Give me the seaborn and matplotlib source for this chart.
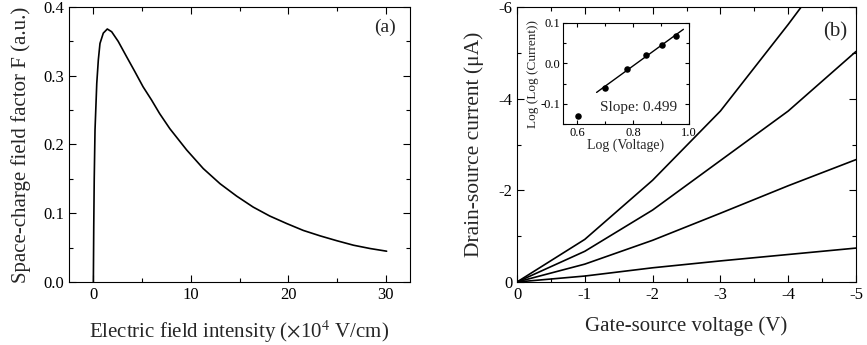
import numpy as np
import pandas as pd
import seaborn as sns
import matplotlib
matplotlib.use("Agg")
from matplotlib import pyplot as plt
from matplotlib.ticker import MultipleLocator, FormatStrFormatter

# (a) space-charge field factor vs electric field
field = [0, 0.04, 0.09, 0.17, 0.35, 0.51, 0.68, 1.02, 1.43, 1.88, 2.55,
         3.4, 4.26, 5.1, 5.96, 6.8, 7.85, 9.58, 11.28, 13.0, 14.7, 16.4,
         18.1, 19.85, 21.55, 23.3, 25.0, 26.7, 28.4, 30.1]
factor = [0, 0.08, 0.15, 0.221, 0.289, 0.323, 0.347, 0.362, 0.368, 0.364,
          0.350, 0.328, 0.306, 0.284, 0.265, 0.245, 0.223, 0.192, 0.165,
          0.143, 0.125, 0.109, 0.096, 0.085, 0.075, 0.067, 0.060, 0.0535,
          0.0487, 0.0448]

# (b) drain-source current vs gate-source voltage
vgs = [0, -1, -2, -3, -4, -5]
ids_1 = [0, -0.93, -2.22, -3.73, -5.62, -7.6]
ids_2 = [0, -0.67, -1.57, -2.65, -3.73, -5.03]
ids_3 = [0, -0.39, -0.91, -1.50, -2.10, -2.67]
ids_4 = [0, -0.13, -0.31, -0.46, -0.60, -0.74]

# inset: log-log points
log_v = [0.602, 0.699, 0.778, 0.845, 0.903, 0.954]
log_log_i = [-0.131, -0.0615, -0.014, 0.0205, 0.0467, 0.067]
fit_range = [0.67, 0.98]

sns.set_style("ticks")
plt.rcParams['font.family'] = ['Liberation Serif', 'DejaVu Serif']
plt.rcParams['mathtext.fontset'] = 'stix'
plt.rcParams['axes.unicode_minus'] = False
plt.rcParams['axes.linewidth'] = 0.8

W, H = 867, 345
fig = plt.figure(figsize=(W / 100, H / 100), dpi=100)


def px_axes(x0, x1, ytop, ybot):
    return fig.add_axes([x0 / W, 1 - ybot / H, (x1 - x0) / W, (ybot - ytop) / H])


def style_ticks(ax, size=12):
    ax.tick_params(which='both', direction='in', top=True, right=True,
                   colors='black', labelsize=size, width=0.8)
    ax.tick_params(which='major', length=5)
    ax.tick_params(which='minor', length=3)
    for s in ax.spines.values():
        s.set_color('black')


# ---- panel (a)
ax1 = px_axes(69, 410, 7, 282)
sns.lineplot(x=field, y=factor, ax=ax1, color='black', lw=1.2,
             sort=False, estimator=None)
ax1.set_xlim(-2.5, 32.5)
ax1.set_ylim(0, 0.4)
ax1.xaxis.set_major_locator(MultipleLocator(10))
ax1.xaxis.set_minor_locator(MultipleLocator(5))
ax1.yaxis.set_major_locator(MultipleLocator(0.1))
ax1.yaxis.set_minor_locator(MultipleLocator(0.05))
ax1.yaxis.set_major_formatter(FormatStrFormatter('%.1f'))
style_ticks(ax1)
ax1.set_xlabel(r"Electric field intensity ($\times$10$^{4}$ V/cm)", fontsize=15,
               labelpad=11)
ax1.set_ylabel("Space-charge field factor F (a.u.)", fontsize=15, labelpad=9)
ax1.text(0.927, 0.925, "(a)", transform=ax1.transAxes, fontsize=14,
         ha='center', va='center')

# ---- panel (b)
ax2 = px_axes(517, 856, 7, 282)
for ids in [ids_1, ids_2, ids_3, ids_4]:
    sns.lineplot(x=vgs, y=ids, ax=ax2, color='black', lw=1.2,
                 sort=False, estimator=None)
ax2.set_xlim(0, -5)
ax2.set_ylim(0, -6)
ax2.xaxis.set_major_locator(MultipleLocator(1))
ax2.xaxis.set_minor_locator(MultipleLocator(0.5))
ax2.yaxis.set_major_locator(MultipleLocator(2))
ax2.yaxis.set_minor_locator(MultipleLocator(1))
ax2.xaxis.set_major_formatter(FormatStrFormatter('%d'))
ax2.yaxis.set_major_formatter(FormatStrFormatter('%d'))
style_ticks(ax2)
ax2.set_xlabel("Gate-source voltage (V)", fontsize=15, labelpad=10)
ax2.set_ylabel("Drain-source current (\u03bcA)", fontsize=15.5, labelpad=10)
ax2.text(0.938, 0.91, "(b)", transform=ax2.transAxes, fontsize=15,
         ha='center', va='center')

# ---- inset
ax3 = px_axes(563, 689, 23, 124)
sns.scatterplot(x=log_v, y=log_log_i, ax=ax3, color='black', s=22,
                edgecolor='black', linewidth=0)
slope, icpt = np.polyfit(log_v[1:], log_log_i[1:], 1)
fx = np.array(fit_range)
sns.lineplot(x=fx, y=slope * fx + icpt, ax=ax3, color='black', lw=1.0)
ax3.set_xlim(0.55, 1.0)
ax3.set_ylim(-0.15, 0.1)
ax3.xaxis.set_major_locator(MultipleLocator(0.2))
ax3.xaxis.set_minor_locator(MultipleLocator(0.1))
ax3.yaxis.set_major_locator(MultipleLocator(0.1))
ax3.yaxis.set_minor_locator(MultipleLocator(0.05))
ax3.xaxis.set_major_formatter(FormatStrFormatter('%.1f'))
ax3.yaxis.set_major_formatter(FormatStrFormatter('%.1f'))
style_ticks(ax3, size=9)
ax3.tick_params(which='major', length=3, pad=2)
ax3.tick_params(which='minor', length=2)
ax3.set_xlabel("Log (Voltage)", fontsize=10, labelpad=0)
ax3.set_ylabel("Log (Log (Current))", fontsize=9.5, labelpad=1)
ax3.text(0.60, 0.16, "Slope: 0.499", transform=ax3.transAxes, fontsize=11,
         ha='center', va='center')

fig.savefig("out.png", dpi=100)
